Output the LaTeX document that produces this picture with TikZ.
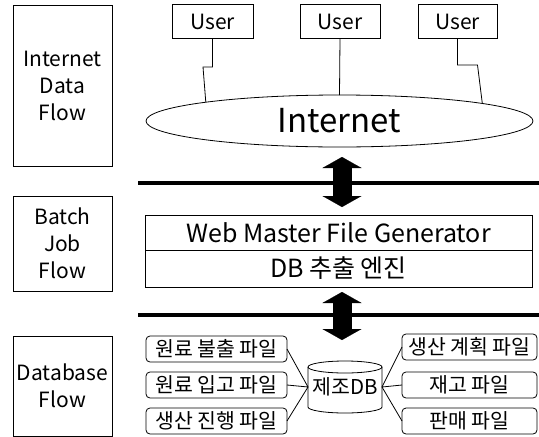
\documentclass[tikz,border=0pt]{standalone}
\usepackage{fontspec}
\setmainfont{Noto Sans CJK KR}
\usetikzlibrary{arrows.meta,shapes.geometric}
\begin{document}
\begin{tikzpicture}[x=1pt,y=-1pt,line width=0.8pt,
  lbl/.style={draw,align=center,inner sep=0pt,outer sep=0pt,minimum width=99pt,
    font=\fontsize{21}{27}\selectfont},
  userbox/.style={draw,inner sep=0pt,outer sep=0pt,minimum height=34pt,
    font=\fontsize{21}{25}\selectfont},
  layerbox/.style={draw,inner sep=0pt,outer sep=0pt,minimum width=387pt,
    font=\fontsize{25}{30}\selectfont},
  filebox/.style={draw,rounded corners=4pt,inner sep=0pt,outer sep=0pt,minimum height=26pt,
    font=\fontsize{20.5}{24}\selectfont},
  sepline/.style={line width=4pt},
  blockarrow/.style={line width=19pt,
    {Triangle[length=11pt,width=39pt,line width=0.1pt]}-{Triangle[length=11pt,width=39pt,line width=0.1pt]}}
]
\useasboundingbox (0,0) rectangle (539,437);
\fill[white] (0,0) rectangle (539,437);

% left labels
\node[lbl,minimum height=161pt] (l1) at (62.5,85.5) {Internet\\Data\\Flow};
\node[lbl,minimum height=95pt] (l2) at (62.5,243.5) {Batch\\Job\\Flow};
\node[lbl,minimum height=100pt] (l3) at (62.5,386) {Database\\Flow};

% users
\node[userbox,minimum width=81pt] (u1) at (212.5,21.5) {User};
\node[userbox,minimum width=80pt] (u2) at (340,21.5) {User};
\node[userbox,minimum width=79pt] (u3) at (457.5,21.5) {User};

% internet
\node[draw,ellipse,inner sep=0pt,outer sep=0pt,minimum width=387pt,minimum height=52pt,
  font=\fontsize{33}{38}\selectfont] (inet) at (339.5,121) {Internet};

\draw (u1.south) |- (203,67) -- (inet.172.3);
\draw (u2.south) -- (inet.north);
\draw (u3.south) |- (477.5,65) -- (inet.7.5);

% separator lines
\coordinate (s1a) at (138,183);
\coordinate (s1b) at (539,183);
\coordinate (s2a) at (138,315);
\coordinate (s2b) at (539,315);
\draw[sepline] (s1a) -- (s1b);
\draw[sepline] (s2a) -- (s2b);

% batch boxes
\node[layerbox,minimum height=35pt] (web) at (338.5,232.5) {Web Master File Generator};
\node[layerbox,minimum height=37pt,anchor=north] (ext) at (web.south) {DB 추출 엔진};

% block arrows
\coordinate (a1t) at (342,157);
\coordinate (a1b) at (342,207);
\coordinate (a2t) at (342,292);
\coordinate (a2b) at (342,340);
\draw[blockarrow] (a1t) -- (a1b);
\draw[blockarrow] (a2t) -- (a2b);

% database cylinder
\node[inner sep=0pt,outer sep=0pt,minimum width=74pt,minimum height=52pt,
  font=\fontsize{20.5}{24}\selectfont] (db) at (345,387) {제조DB};
\draw ([yshift=-6pt]db.north) ellipse [x radius=37pt,y radius=6pt];
\draw ([yshift=-6pt]db.north west) -- ([yshift=6pt]db.south west)
  arc[start angle=180,end angle=360,x radius=37pt,y radius=6pt]
  -- ([yshift=-6pt]db.north east);

% files
\node[filebox,minimum width=141pt] (f1) at (216.5,349) {원료 불출 파일};
\node[filebox,minimum width=141pt] (f2) at (216.5,385) {원료 입고 파일};
\node[filebox,minimum width=141pt] (f3) at (216.5,421) {생산 진행 파일};
\node[filebox,minimum width=135pt] (g1) at (469.5,347) {생산 계획 파일};
\node[filebox,minimum width=135pt] (g2) at (469.5,385) {재고 파일};
\node[filebox,minimum width=135pt] (g3) at (469.5,421) {판매 파일};

\draw (f1.east) -- (db.west);
\draw (f2.east) -- (db.west);
\draw (f3.east) -- (db.west);
\draw (db.east) -- (g1.west);
\draw (db.east) -- (g2.west);
\draw (db.east) -- (g3.west);
\end{tikzpicture}
\end{document}
